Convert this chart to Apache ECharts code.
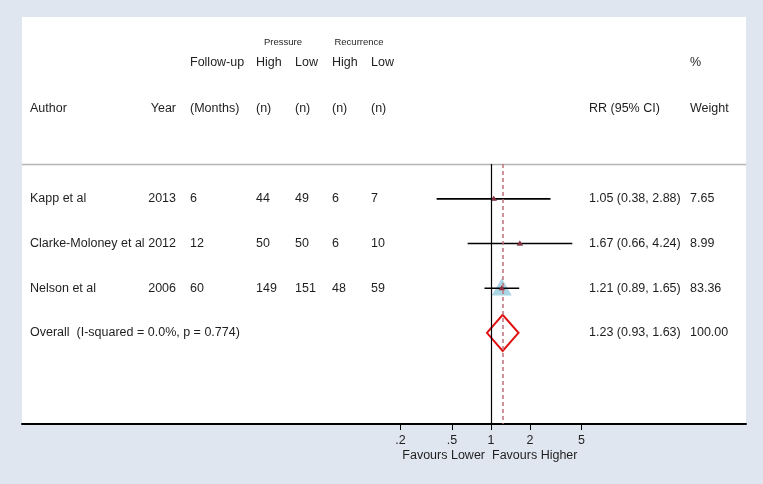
<!DOCTYPE html>
<html>
<head>
<meta charset="utf-8">
<script src="https://cdn.jsdelivr.net/npm/echarts@6/dist/echarts.min.js"></script>
<style>
html, body { margin: 0; padding: 0; background: #e0e6f0; }
#chart { width: 763px; height: 484px; }
</style>
</head>
<body>
<div id="chart"></div>
<script>
const authors = ['Kapp et al', 'Clarke-Moloney et al', 'Nelson et al'];
const years = ['2013', '2012', '2006'];
const followUp = ['6', '12', '60'];
const pressureHigh = ['44', '50', '149'];
const pressureLow = ['49', '50', '151'];
const recurrenceHigh = ['6', '6', '48'];
const recurrenceLow = ['7', '10', '59'];
const rr = [1.05, 1.67, 1.21];
const ciLow = [0.38, 0.66, 0.89];
const ciHigh = [2.88, 4.24, 1.65];
const weights = [7.65, 8.99, 83.36];

const overallLabel = 'Overall  (I-squared = 0.0%, p = 0.774)';
const overallRR = 1.23;
const overallLow = 0.93;
const overallHigh = 1.63;
const overallWeight = 100;

const tickValues = [0.2, 0.5, 1, 2, 5];
const tickLabels = ['.2', '.5', '1', '2', '5'];

const FONT = '"Liberation Sans", Arial, sans-serif';
const FS = 12.5;
const TEXT = '#1e1e1e';
const lg = v => Math.log10(v);

const chart = echarts.init(document.getElementById('chart'), null, { renderer: 'canvas' });

const studyData = rr.map((v, i) => [lg(v), i, lg(ciLow[i]), lg(ciHigh[i]), weights[i]]);
const rowText = authors.map((a, i) => [i, a, years[i], followUp[i], pressureHigh[i], pressureLow[i],
    recurrenceHigh[i], recurrenceLow[i],
    rr[i].toFixed(2) + ' (' + ciLow[i].toFixed(2) + ', ' + ciHigh[i].toFixed(2) + ')',
    weights[i].toFixed(2)]);
rowText.push([3, overallLabel, '', '', '', '', '', '',
    overallRR.toFixed(2) + ' (' + overallLow.toFixed(2) + ', ' + overallHigh.toFixed(2) + ')',
    overallWeight.toFixed(2)]);

// column x positions (px) and alignment
const cols = [
    { x: 30, align: 'left' },
    { x: 176, align: 'right' },
    { x: 190, align: 'left' },
    { x: 256, align: 'left' },
    { x: 295, align: 'left' },
    { x: 332, align: 'left' },
    { x: 371, align: 'left' },
    { x: 589, align: 'left' },
    { x: 690, align: 'left' }
];

function txt(x, y, s, size, align) {
    return {
        type: 'text', x: x, y: y, z: 5,
        style: { text: s, fill: TEXT, font: (size || FS) + 'px ' + FONT, align: align || 'left', verticalAlign: 'middle' }
    };
}

const graphics = [
    { type: 'rect', shape: { x: 22, y: 17, width: 724, height: 407 }, style: { fill: '#ffffff' }, z: -10 },
    { type: 'line', shape: { x1: 22, y1: 164.5, x2: 746, y2: 164.5 }, style: { stroke: '#b4b4b4', lineWidth: 1.5 }, z: 1 },
    txt(283, 42, 'Pressure', 9.5, 'center'),
    txt(359, 42, 'Recurrence', 9.5, 'center'),
    txt(190, 63, 'Follow-up'),
    txt(256, 63, 'High'),
    txt(295, 63, 'Low'),
    txt(332, 63, 'High'),
    txt(371, 63, 'Low'),
    txt(690, 63, '%'),
    txt(30, 109, 'Author'),
    txt(176, 109, 'Year', FS, 'right'),
    txt(190, 109, '(Months)'),
    txt(256, 109, '(n)'),
    txt(295, 109, '(n)'),
    txt(332, 109, '(n)'),
    txt(371, 109, '(n)'),
    txt(589, 109, 'RR (95% CI)'),
    txt(690, 109, 'Weight'),
    txt(485, 456, 'Favours Lower', FS, 'right'),
    txt(492, 456, 'Favours Higher', FS, 'left')
];

chart.setOption({
    backgroundColor: '#e0e6f0',
    animation: false,
    graphic: graphics,
    grid: { left: 22, right: 17, top: 164, bottom: 60, containLabel: false },
    xAxis: {
        type: 'value',
        min: -3.622,
        max: 1.969,
        splitLine: { show: false },
        axisLine: { show: true, onZero: false, lineStyle: { color: '#000', width: 2 } },
        axisTick: { show: true, length: 6, lineStyle: { color: '#000', width: 1 }, customValues: tickValues.map(lg) },
        axisLabel: {
            customValues: tickValues.map(lg),
            color: TEXT, fontFamily: FONT, fontSize: FS, margin: 10,
            formatter: v => {
                let best = 0;
                tickValues.forEach((t, i) => { if (Math.abs(lg(t) - v) < Math.abs(lg(tickValues[best]) - v)) best = i; });
                return tickLabels[best];
            }
        }
    },
    yAxis: {
        type: 'value', inverse: true, min: -0.78, max: 5.04, show: false
    },
    series: [
        {
            type: 'custom',
            name: 'table',
            silent: true,
            data: rowText,
            renderItem: (params, api) => {
                const row = rowText[params.dataIndex];
                const y = api.coord([0, row[0]])[1];
                const children = [];
                for (let c = 0; c < cols.length; c++) {
                    const s = row[c + 1];
                    if (!s) continue;
                    children.push(txt(cols[c].x, y, s, FS, cols[c].align));
                }
                return { type: 'group', children: children };
            },
            encode: { x: -1, y: 0 }
        },
        {
            type: 'custom',
            name: 'studies',
            silent: true,
            data: studyData,
            renderItem: (params, api) => {
                const c = api.coord([api.value(0), api.value(1)]);
                const lo = api.coord([api.value(2), api.value(1)]);
                const hi = api.coord([api.value(3), api.value(1)]);
                const w = api.value(4);
                const hw = 1.1 * Math.sqrt(w);
                const hh = 1.9 * Math.sqrt(w);
                return {
                    type: 'group',
                    children: [
                        {
                            type: 'polygon', z2: 1,
                            shape: { points: [[c[0], c[1] - hh * 0.58], [c[0] - hw, c[1] + hh * 0.42], [c[0] + hw, c[1] + hh * 0.42]] },
                            style: { fill: '#a9d5e4' }
                        },
                        {
                            type: 'line', z2: 2,
                            shape: { x1: lo[0], y1: c[1], x2: hi[0], y2: c[1] },
                            style: { stroke: '#000', lineWidth: 1.6 }
                        },
                        {
                            type: 'polygon', z2: 3,
                            shape: { points: [[c[0], c[1] - 3], [c[0] - 3.2, c[1] + 2], [c[0] + 3.2, c[1] + 2]] },
                            style: { fill: '#8b2e3e' }
                        }
                    ]
                };
            },
            encode: { x: 0, y: 1 }
        },
        {
            type: 'custom',
            name: 'overall',
            silent: true,
            data: [[lg(overallRR), 3, lg(overallLow), lg(overallHigh)]],
            renderItem: (params, api) => {
                const c = api.coord([api.value(0), api.value(1)]);
                const lo = api.coord([api.value(2), api.value(1)]);
                const hi = api.coord([api.value(3), api.value(1)]);
                return {
                    type: 'polygon', z2: 4,
                    shape: { points: [[lo[0], c[1]], [c[0], c[1] - 18], [hi[0], c[1]], [c[0], c[1] + 18]] },
                    style: { fill: 'none', stroke: '#e01010', lineWidth: 2 }
                };
            },
            encode: { x: 0, y: 1 },
            markLine: {
                silent: true,
                symbol: 'none',
                label: { show: false },
                data: [
                    { xAxis: lg(1), lineStyle: { color: '#000', width: 1.2, type: 'solid' } },
                    { xAxis: lg(overallRR), lineStyle: { color: '#c0707c', width: 1.5, type: [4, 3] } }
                ]
            }
        }
    ]
});
</script>
</body>
</html>
